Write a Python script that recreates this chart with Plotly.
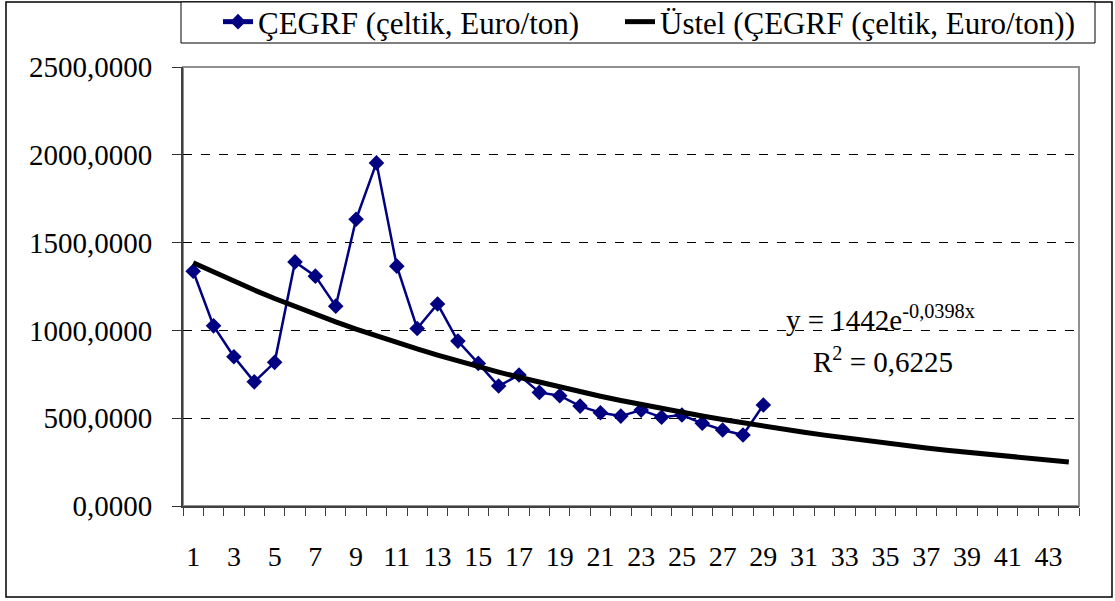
import numpy as np
import plotly.graph_objects as go

# ---- data ----
periods = list(range(1, 30))
cegrf = [1337, 1026, 850, 707, 818, 1390, 1309, 1138, 1633, 1954,
         1366, 1011, 1150, 939, 812, 683, 746, 647, 628, 569,
         531, 512, 546, 505, 518, 471, 433, 404, 575]
trend_x = list(range(1, 45))
trend_a = 1442
trend_b = -0.0398
x_tick_vals = list(range(1, 45, 2))
y_tick_vals = [0, 500, 1000, 1500, 2000, 2500]
y_tick_text = ["0,0000", "500,0000", "1000,0000", "1500,0000", "2000,0000", "2500,0000"]
series_name = "ÇEGRF (çeltik, Euro/ton)"
trend_name = "Üstel (ÇEGRF (çeltik, Euro/ton))"
eq_text = "y = 1442e<sup>-0,0398x</sup>"
r2_text = "R<sup>2</sup> = 0,6225"

trend_y = [trend_a * np.exp(trend_b * x) for x in trend_x]

FONT = "Times New Roman"
W, H = 1115, 601
L, R, T, B = 183, 1079, 67, 506

def px2x(px):
    return (px - L) / (R - L)

def px2y(py):
    return (B - py) / (B - T)

fig = go.Figure()
fig.add_trace(go.Scatter(
    x=periods, y=cegrf, name=series_name, mode="lines+markers",
    line=dict(color="#000080", width=2.5),
    marker=dict(symbol="diamond", size=12, color="#000080"),
    legendwidth=357,
))
fig.add_trace(go.Scatter(
    x=trend_x, y=trend_y, name=trend_name, mode="lines",
    line=dict(color="black", width=5),
    legendwidth=440,
))

fig.update_layout(
    template="none",
    width=W, height=H,
    margin=dict(l=L, r=W - R, t=T, b=H - B, autoexpand=False),
    paper_bgcolor="white", plot_bgcolor="white",
    font=dict(family=FONT, size=28, color="black"),
    showlegend=True,
    legend=dict(
        orientation="h", x=px2x(218), xanchor="left", y=px2y(22), yanchor="middle",
        borderwidth=0, bgcolor="rgba(0,0,0,0)",
        font=dict(family=FONT, size=31), traceorder="normal",
        itemsizing="constant", tracegroupgap=0,
    ),
    xaxis=dict(
        range=[0.5, 44.5], tickmode="array", tickvals=x_tick_vals,
        ticktext=[str(v) for v in x_tick_vals],
        ticks="", showgrid=False, zeroline=False,
        showline=True, linecolor="#404040", linewidth=2,
        tickfont=dict(family=FONT, size=28),
        ticklabelstandoff=24,
        minor=dict(tick0=0.5, dtick=1, ticks="outside", ticklen=8,
                   tickcolor="#404040", tickwidth=1, showgrid=False),
    ),
    yaxis=dict(
        range=[0, 2500], tickmode="array", tickvals=y_tick_vals, ticktext=y_tick_text,
        ticks="outside", ticklen=9, tickcolor="#303030", tickwidth=1,
        showgrid=True, gridcolor="black", griddash="dash", gridwidth=1,
        zeroline=False, showline=True, linecolor="#404040", linewidth=2,
        tickfont=dict(family=FONT, size=29),
        ticklabelstandoff=14,
    ),
    shapes=[
        # plot area border (top/right)
        dict(type="rect", xref="paper", yref="paper", x0=0, x1=1, y0=0, y1=1,
             line=dict(color="#909090", width=2), layer="below"),
        # outer chart border
        dict(type="rect", xref="paper", yref="paper",
             x0=px2x(6), x1=px2x(1112), y0=px2y(597), y1=px2y(2),
             line=dict(color="black", width=1.5), layer="below"),
        # legend box
        dict(type="rect", xref="paper", yref="paper",
             x0=px2x(181), x1=px2x(1095), y0=px2y(43), y1=px2y(2),
             line=dict(color="black", width=1), fillcolor="white", layer="below"),
    ],
    annotations=[
        dict(text=eq_text, xref="paper", yref="paper", x=px2x(880), y=px2y(318),
             xanchor="center", yanchor="middle", showarrow=False,
             font=dict(family=FONT, size=29)),
        dict(text=r2_text, xref="paper", yref="paper", x=px2x(883), y=px2y(360),
             xanchor="center", yanchor="middle", showarrow=False,
             font=dict(family=FONT, size=29)),
    ],
)

fig.write_html("out.html", config={"displayModeBar": False},
               post_script="document.body.style.margin='0px';")
